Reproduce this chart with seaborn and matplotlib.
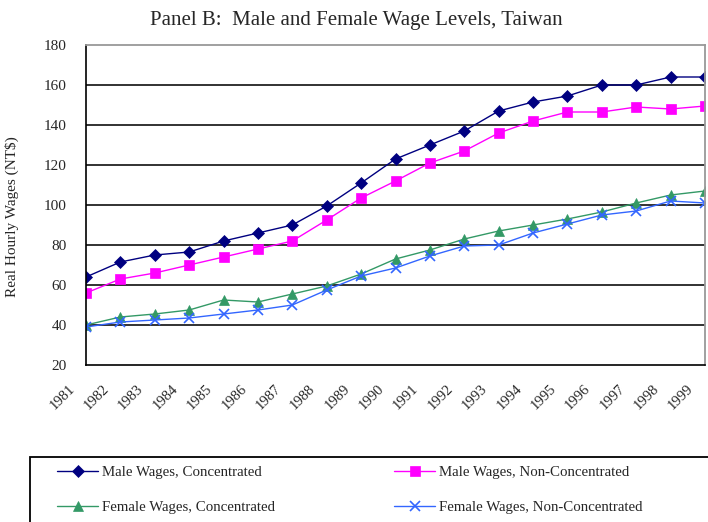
import matplotlib
matplotlib.use("Agg")
import matplotlib.pyplot as plt
import matplotlib.transforms as mtransforms
from matplotlib.patches import Rectangle
import seaborn as sns
import pandas as pd

years = list(range(1981, 2000))
male_conc = [64, 71.5, 75, 76.5, 82, 86, 90, 99.5, 111, 123, 130, 137, 147, 151.5, 154.5, 160, 160, 164, 164]
male_nonconc = [56, 63, 66, 70, 74, 78, 82, 92.5, 103.5, 112, 121, 127, 136, 142, 146.5, 146.5, 149, 148, 149.5]
female_conc = [40, 44, 45.5, 47.5, 52.5, 51.5, 55.5, 59.5, 65.5, 73, 77.5, 83, 87, 90, 93, 96.5, 101, 105, 107]
female_nonconc = [39, 41.5, 42.5, 43.5, 45.5, 47.5, 50, 57.5, 64.5, 68.5, 74.5, 79.5, 80, 86, 90.5, 95, 97, 102, 101]
series_names = ["Male Wages, Concentrated", "Male Wages, Non-Concentrated",
                "Female Wages, Concentrated", "Female Wages, Non-Concentrated"]
y_ticks = [20, 40, 60, 80, 100, 120, 140, 160, 180]

sns.set_style("white")
plt.rcParams['font.family'] = ['Liberation Serif', 'DejaVu Serif']

W, H = 708, 522
fig = plt.figure(figsize=(W/100, H/100), dpi=100)
ax = fig.add_axes([86/W, 1-365/H, (705-86)/W, (365-45)/H])

styles = [
    (male_conc, "#000080", "D", 6, series_names[0]),
    (male_nonconc, "#FF00FF", "s", 7, series_names[1]),
    (female_conc, "#339966", "^", 7.5, series_names[2]),
    (female_nonconc, "#3366FF", "x", 7.5, series_names[3]),
]
for vals, col, mk, ms, name in styles:
    df = pd.DataFrame({"Year": years, "Wage": vals})
    sns.lineplot(data=df, x="Year", y="Wage", ax=ax, color=col, marker=mk,
                 markersize=ms, markeredgecolor=col, markeredgewidth=1.2 if mk == "x" else 0.5,
                 linewidth=1.0, label=name, legend=False)

ax.set_xlim(1981, 1999)
ax.set_ylim(20, 180)
ax.set_yticks(y_ticks)
ax.set_yticklabels([str(v) for v in y_ticks], fontsize=11)
ax.set_xticks(years)
ax.set_xticklabels([str(y) for y in years], rotation=45, ha='right', fontsize=10.5)
ax.tick_params(axis='x', which='both', direction='out', length=4, width=1, color='black', pad=6)
ax.tick_params(axis='y', which='both', direction='out', length=5, width=1, color='black', pad=9)
ax.set_xlabel("")
ax.set_ylabel("Real Hourly Wages (NT$)", fontsize=11)
ax.yaxis.set_label_coords((19.5-86)/619, (365-217)/320)

for v in y_ticks[1:-1]:
    ax.axhline(v, color='#222222', linewidth=1.3, zorder=0)
ax.spines['left'].set_color('black')
ax.spines['bottom'].set_color('black')
ax.spines['left'].set_linewidth(1.2)
ax.spines['bottom'].set_linewidth(1.2)
ax.spines['top'].set_color('#999999')
ax.spines['right'].set_color('#999999')
ax.spines['top'].set_linewidth(1.3)
ax.spines['right'].set_linewidth(1.3)

fig.text(356/W, 1-21/H, "Panel B:  Male and Female Wage Levels, Taiwan",
         ha='center', va='center', fontsize=15)

# legend box
fig.patches.append(Rectangle((30/W, 1-540/H), (720-30)/W, (540-457)/H,
                             transform=fig.transFigure, fill=False,
                             edgecolor='black', linewidth=1.3, clip_on=False))

handles, labels = ax.get_legend_handles_labels()
order = [0, 2, 1, 3]
fs = 10.7
em = fs * 100 / 72
leg = fig.legend([handles[i] for i in order], [labels[i] for i in order],
                 loc='upper left', ncol=2, bbox_to_anchor=(57/W, 1-466/H),
                 borderaxespad=0, borderpad=0, fontsize=fs, frameon=False,
                 handlelength=41/em, handletextpad=4/em,
                 labelspacing=21/em, columnspacing=119/em)

# shift rotated year labels left, as in the reference
offset = mtransforms.ScaledTranslation(-18/100, -3/100, fig.dpi_scale_trans)
for t in ax.get_xticklabels():
    t.set_rotation_mode('anchor')
    t.set_transform(t.get_transform() + offset)

fig.savefig("out.png", dpi=100)
